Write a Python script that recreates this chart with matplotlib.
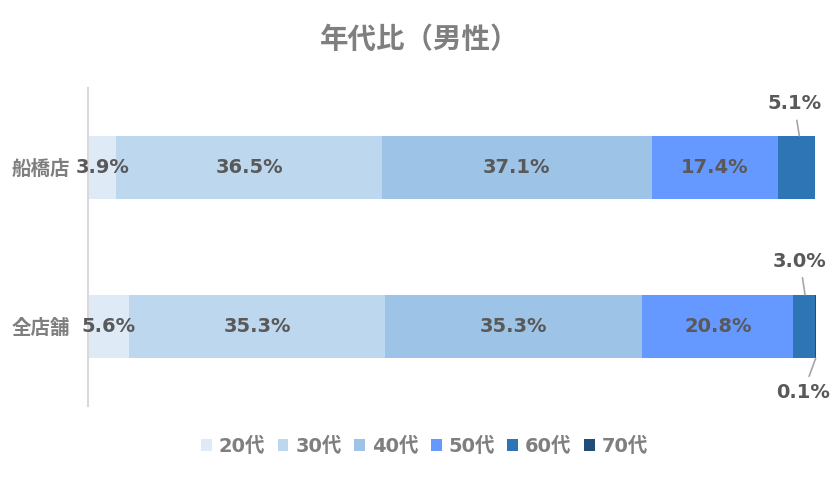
import matplotlib
matplotlib.use("Agg")
import matplotlib.pyplot as plt
from matplotlib.patches import Patch

plt.rcParams["font.family"] = ["DejaVu Sans", "Noto Sans CJK JP"]

# data (percent, men by age group)
stores = ["船橋店", "全店舗"]
age_groups = ["20代", "30代", "40代", "50代", "60代", "70代"]
funabashi = [3.9, 36.5, 37.1, 17.4, 5.1, 0.0]
all_stores = [5.6, 35.3, 35.3, 20.8, 3.0, 0.1]

COLORS = ["#DEEBF7", "#BDD7EE", "#9DC3E6", "#6699FF", "#2E75B6", "#1F4E79"]
LABEL_C = "#595959"
GREY = "#7F7F7F"

fig = plt.figure(figsize=(8.39, 4.78), dpi=100)
ax = fig.add_axes([88 / 839, 1 - 406 / 478, 728 / 839, 318 / 478])

rows = [funabashi, all_stores]
ypos = [1, 0]
for vals, y in zip(rows, ypos):
    left = 0.0
    for i, v in enumerate(vals):
        if v > 0:
            ax.barh(y, v, left=left, height=0.4, color=COLORS[i], linewidth=0)
        left += v

# inside labels (first four segments)
for vals, y in zip(rows, ypos):
    left = 0.0
    for i, v in enumerate(vals[:4]):
        ax.text(left + v / 2, y, f"{v:.1f}%", ha="center", va="center",
                fontsize=14, fontweight="bold", color=LABEL_C)
        left += v

# callout labels for small segments
def callout(x_bar, y_bar, x_txt, y_txt, text):
    ax.annotate(text, xy=(x_bar, y_bar), xytext=(x_txt, y_txt),
                ha="center", va="center", fontsize=14, fontweight="bold",
                color=LABEL_C, annotation_clip=False,
                arrowprops=dict(arrowstyle="-", color="#A6A6A6", lw=1.2,
                                shrinkA=3, shrinkB=0))

end1 = sum(funabashi[:4])
callout(end1 + funabashi[4] * 0.57, 1.2, end1 + 2.2, 1.40, f"{funabashi[4]:.1f}%")
end0 = sum(all_stores[:4])
callout(end0 + all_stores[4] * 0.53, 0.2, end0 + 0.9, 0.41, f"{all_stores[4]:.1f}%")
callout(sum(all_stores[:5]) + all_stores[5] * 0.5, -0.2, end0 + 1.35, -0.415,
        f"{all_stores[5]:.1f}%")

ax.set_xlim(0, max(sum(funabashi), sum(all_stores)))
ax.set_ylim(-0.5, 1.5)
ax.set_yticks(ypos)
ax.set_yticklabels(stores, fontsize=14, fontweight="bold", color=GREY,
                   family=["Noto Sans CJK JP"])
ax.tick_params(axis="y", length=0, pad=13)
ax.set_xticks([])
for s in ["top", "right", "bottom"]:
    ax.spines[s].set_visible(False)
ax.spines["left"].set_color("#D9D9D9")
ax.spines["left"].set_linewidth(1.5)

fig.text(0.5, 1 - 40 / 478, "年代比（男性）", ha="center", va="center",
         fontsize=20.5, fontweight="bold", color=GREY,
         family=["Noto Sans CJK JP"])

handles = [Patch(facecolor=c, edgecolor="none", label=l)
           for c, l in zip(COLORS, age_groups)]
fig.legend(handles=handles, loc="center", bbox_to_anchor=(0.506, 1 - 446 / 478),
           ncol=6, frameon=False, handlelength=0.55, handleheight=0.55,
           handletextpad=0.35, columnspacing=0.65,
           prop={"size": 14, "weight": "bold",
                 "family": ["DejaVu Sans", "Noto Sans CJK JP"]},
           labelcolor=GREY)

fig.savefig("out.png", dpi=100)
